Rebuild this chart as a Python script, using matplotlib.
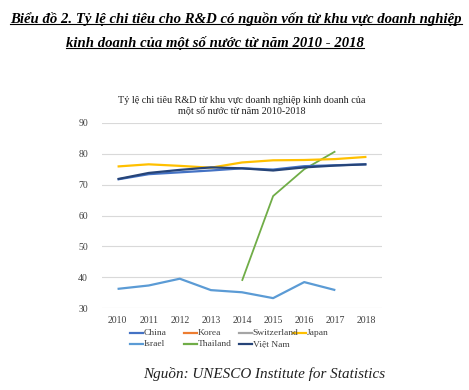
import numpy as np
import matplotlib
matplotlib.use("Agg")
import matplotlib.pyplot as plt
from matplotlib.lines import Line2D

years = ["2010", "2011", "2012", "2013", "2014", "2015", "2016", "2017", "2018"]
nan = np.nan
china = [71.7, 73.4, 74.0, 74.6, 75.3, 74.9, 76.0, 76.3, 76.6]
korea = [nan] * 9
switzerland = [nan] * 9
japan = [75.9, 76.6, 76.1, 75.5, 77.2, 77.9, 78.0, 78.3, 79.0]
israel = [36.2, 37.3, 39.5, 35.8, 35.1, 33.2, 38.4, 35.8, nan]
thailand = [nan, nan, nan, nan, 38.8, 66.3, 75.0, 80.8, nan]
vietnam = [71.8, 73.8, 74.8, 75.6, 75.3, 74.6, 75.6, 76.2, 76.6]

series = [
    ("China", china, "#4472C4"),
    ("Korea", korea, "#ED7D31"),
    ("Switzerland", switzerland, "#A5A5A5"),
    ("Japan", japan, "#FFC000"),
    ("Israel", israel, "#5B9BD5"),
    ("Thailand", thailand, "#70AD47"),
    ("Việt Nam", vietnam, "#264478"),
]

serif = ["Liberation Serif", "DejaVu Serif"]

fig = plt.figure(figsize=(4.69, 3.90), dpi=100)
W, H = 469, 390
ax = fig.add_axes([102 / W, 1 - 308 / H, 280 / W, 185 / H])

x = np.arange(len(years))
order_draw = ["Korea", "Switzerland", "Israel", "Thailand", "Japan", "China", "Việt Nam"]
smap = {n: (v, c) for n, v, c in series}
for name in order_draw:
    v, c = smap[name]
    ax.plot(x, np.array(v, dtype=float), color=c, lw=1.6 if name != "Thailand" else 1.3,
            solid_capstyle="butt", solid_joinstyle="round")

ax.set_xlim(-0.5, len(years) - 0.5)
ax.set_ylim(30, 90)
ax.set_yticks([30, 40, 50, 60, 70, 80, 90])
ax.set_xticks(x)
ax.set_xticklabels(years)
ax.grid(axis="y", color="#D9D9D9", lw=0.8)
ax.set_axisbelow(True)
for s in ax.spines.values():
    s.set_visible(False)
ax.tick_params(length=0, labelsize=7, colors="#404040", pad=6)
for lab in ax.get_xticklabels() + ax.get_yticklabels():
    lab.set_family(serif)
ax.tick_params(axis="y", pad=10)

# chart inner title
fig.text(242 / W, 1 - 106 / H, "Tỷ lệ chi tiêu R&D từ khu vực doanh nghiệp kinh doanh của\nmột số nước từ năm 2010-2018",
         ha="center", va="center", fontsize=7.3, family=serif, color="#202020", linespacing=1.15)

# legend (equal-width columns, row-wise like the original)
col_x = [130, 184, 239, 293]
row_y = [333, 344]
for i, (n, v, c) in enumerate(series):
    r, k = divmod(i, 4)
    xs, ys = col_x[k], row_y[r]
    fig.add_artist(Line2D([xs / W, (xs + 13) / W], [1 - ys / H, 1 - ys / H],
                          transform=fig.transFigure, color=c, lw=1.6))
    fig.text((xs + 13.5) / W, 1 - ys / H, n, ha="left", va="center", fontsize=6.8,
             family=serif, color="#404040")

# heading
t1 = fig.text(236 / W, 1 - 19 / H, "Biểu đồ 2. Tỷ lệ chi tiêu cho R&D có nguồn vốn từ khu vực doanh nghiệp",
              ha="center", va="center", fontsize=10.6, family=serif, style="italic", weight="bold")
t2 = fig.text(215 / W, 1 - 43 / H, "kinh doanh của một số nước từ năm 2010 - 2018",
              ha="center", va="center", fontsize=10.6, family=serif, style="italic", weight="bold")
t3 = fig.text(264 / W, 1 - 374 / H, "Nguồn: UNESCO Institute for Statistics",
              ha="center", va="center", fontsize=10.9, family=serif, style="italic", color="#202020")

fig.canvas.draw()
rend = fig.canvas.get_renderer()
for t in (t1, t2):
    bb = t.get_window_extent(rend)
    yb = (bb.y0 + 2) / H
    fig.add_artist(Line2D([bb.x0 / W, bb.x1 / W], [yb, yb], transform=fig.transFigure, color="black", lw=0.8))

fig.savefig("out.png", dpi=100)
